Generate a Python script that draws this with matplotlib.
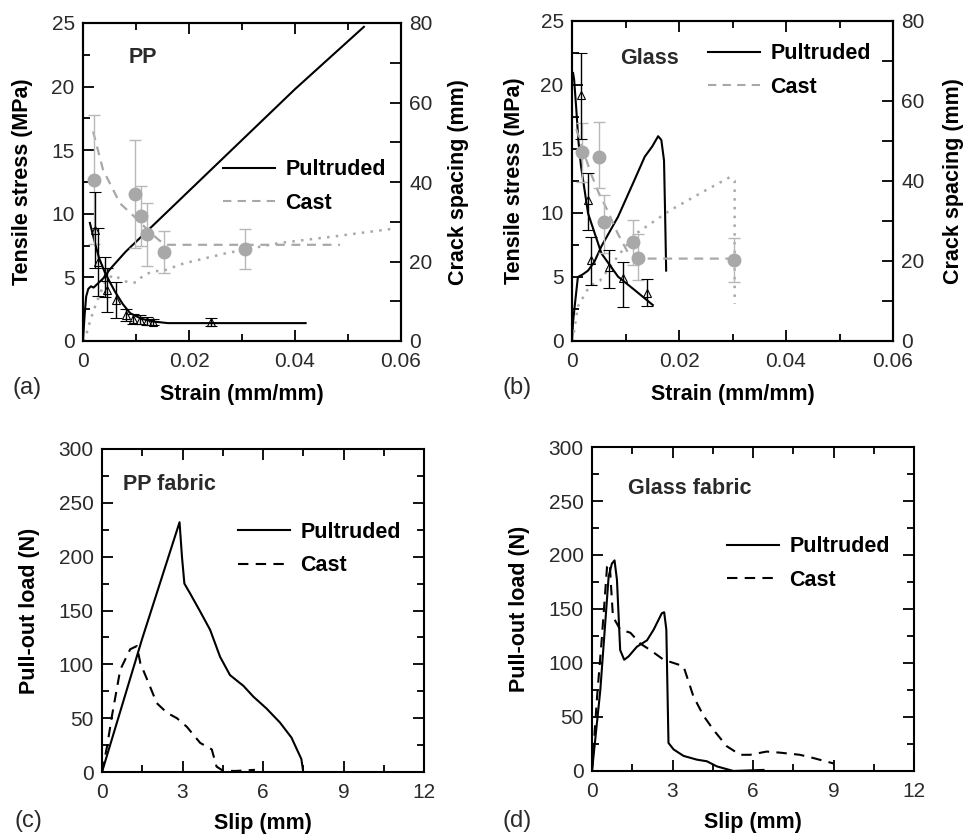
import matplotlib
matplotlib.use("Agg")
import matplotlib.pyplot as plt
from matplotlib.lines import Line2D
from matplotlib.ticker import MultipleLocator

plt.rcParams['font.family'] = ['Liberation Sans', 'DejaVu Sans']

# ---- (a) PP tensile ----
a_pul_x = [0, 0.0003, 0.0006, 0.001, 0.0015, 0.002, 0.003, 0.004, 0.005, 0.008, 0.012, 0.02, 0.03, 0.04, 0.053]
a_pul_y = [0, 2.0, 3.5, 4.1, 4.3, 4.2, 4.6, 5.0, 5.6, 7.0, 8.6, 11.8, 15.8, 19.8, 24.7]
a_cast_x = [0, 0.0005, 0.001, 0.002, 0.003, 0.0042, 0.0057, 0.007, 0.0085, 0.010, 0.0115, 0.0135, 0.015,
            0.019, 0.027, 0.037, 0.047, 0.058]
a_cast_y = [0, 0.3, 1.1, 2.4, 3.5, 4.7, 5.2, 4.9, 4.6, 4.6, 5.2, 5.5, 5.5, 6.1, 6.9, 7.7, 8.2, 8.8]
a_pfit_x = [0.0013, 0.002, 0.003, 0.0042, 0.006, 0.0075, 0.0089, 0.011, 0.0133, 0.016, 0.03, 0.042]
a_pfit_y = [29.7, 26.0, 21.0, 17.0, 12.5, 9.3, 7.0, 5.6, 4.9, 4.5, 4.5, 4.5]
a_ppts_x = [0.0022, 0.0028, 0.0041, 0.0045, 0.0063, 0.0082, 0.0094, 0.0107, 0.012, 0.0132, 0.0242]
a_ppts_y = [27.9, 19.9, 16.1, 12.8, 10.3, 6.5, 5.6, 5.4, 5.0, 4.8, 4.8]
a_ppts_e = [9.5, 8.5, 5.0, 5.5, 4.6, 1.5, 1.3, 1.2, 1.0, 0.8, 1.0]
a_cpts_x = [0.002, 0.0098, 0.0109, 0.012, 0.0152, 0.0306]
a_cpts_y = [40.5, 36.9, 31.4, 26.9, 22.5, 23.1]
a_cpts_lo = [16.0, 13.6, 7.5, 8.0, 5.3, 5.1]
a_cpts_hi = [16.4, 13.7, 7.6, 7.9, 5.2, 5.0]
a_cfit_x = [0.0019, 0.0038, 0.007, 0.0104, 0.0125, 0.0145, 0.016, 0.03, 0.0485]
a_cfit_y = [52.7, 43.0, 34.6, 30.4, 27.5, 25.2, 24.2, 24.2, 24.2]

# ---- (b) Glass tensile ----
b_pul_x = [0, 0.0002, 0.0005, 0.0011, 0.002, 0.003, 0.0042, 0.0055, 0.0086, 0.0117, 0.0136, 0.015,
           0.0161, 0.0167, 0.0172, 0.0174, 0.0176]
b_pul_y = [0, 1.5, 2.7, 5.0, 5.2, 5.5, 6.2, 7.4, 9.7, 12.6, 14.4, 15.2, 16.0, 15.7, 14.1, 10.0, 5.5]
b_cast_x = [0, 0.0004, 0.0011, 0.0033, 0.0052, 0.0089, 0.012, 0.0183, 0.0251, 0.0295, 0.0304, 0.0304]
b_cast_y = [0, 0.8, 2.7, 4.3, 4.7, 6.8, 8.4, 10.2, 11.8, 12.8, 12.5, 2.9]
b_pfit_x = [0.0002, 0.0004, 0.0008, 0.0012, 0.0017, 0.003, 0.0055, 0.0086, 0.0117, 0.0151]
b_pfit_y = [67.0, 65.3, 58.0, 50.0, 43.6, 31.9, 21.9, 16.1, 12.75, 9.0]
b_ppts_x = [0.0017, 0.0029, 0.0036, 0.0069, 0.0095, 0.0141]
b_ppts_y = [61.5, 35.2, 20.2, 18.6, 15.7, 12.1]
b_ppts_lo = [11.0, 7.5, 6.2, 5.4, 7.1, 3.4]
b_ppts_hi = [10.5, 6.7, 5.8, 4.1, 4.1, 3.3]
b_cpts_x = [0.0019, 0.005, 0.006, 0.0114, 0.0123, 0.0302]
b_cpts_y = [47.3, 46.1, 29.8, 24.8, 20.7, 20.25]
b_cpts_lo = [7.5, 7.9, 7.9, 5.8, 5.45, 5.45]
b_cpts_hi = [7.1, 8.7, 6.7, 5.5, 6.0, 5.55]
b_cfit_x = [0.0008, 0.002, 0.0035, 0.005, 0.0065, 0.0085, 0.0105, 0.0125, 0.0304]
b_cfit_y = [53.0, 48.0, 42.0, 37.0, 33.0, 27.0, 22.0, 20.6, 20.6]

# ---- (c) PP fabric pull-out ----
c_pul_x = [0, 1.5, 2.89, 2.98, 3.07, 3.28, 3.66, 4.03, 4.4, 4.77, 5.27, 5.64, 6.13, 6.63, 7.06, 7.43, 7.5]
c_pul_y = [0, 124, 232, 200, 175, 166, 149, 132, 107, 90, 80, 70, 59, 46, 32, 12, 0]
c_cast_x = [0, 0.19, 0.37, 0.68, 1.05, 1.3, 1.43, 1.73, 2.04, 2.42, 2.79, 3.16, 3.66, 4.09, 4.27, 4.52, 5.0, 5.7]
c_cast_y = [0, 24, 52, 95, 114, 117, 101, 83, 64, 55, 50, 42, 27, 21, 5, 1, 1, 2]

# ---- (d) Glass fabric pull-out ----
d_pul_x = [0, 0.31, 0.62, 0.74, 0.84, 0.93, 1.05, 1.2, 1.36, 1.67, 2.05, 2.3, 2.6, 2.69, 2.77, 2.85,
           3.04, 3.41, 3.91, 4.28, 4.65, 5.27, 6.39]
d_pul_y = [0, 75, 180, 192, 195, 177, 112, 103, 106, 115, 121, 131, 146, 147, 131, 26,
           20, 14, 10.5, 9, 4.3, 0, 1]
d_cast_x = [0, 0.19, 0.37, 0.56, 0.66, 0.71, 0.78, 1.05, 1.43, 1.8, 2.17, 2.67, 2.92, 3.41, 3.78,
            4.16, 4.53, 5.02, 5.52, 5.89, 6.51, 7.0, 7.75, 8.25, 9.0]
d_cast_y = [0, 69, 124, 189, 192, 171, 143, 131, 128, 118, 112, 103, 101, 97, 69,
            51, 38, 23, 15, 15, 18, 17, 15, 12, 7]

W, H = 966, 835
GRAY = '#a8a8a8'
EGRAY = '#b8b8b8'
TXT = '#2a2a2a'
FS = 15      # tick labels
LFS = 15.5   # bold labels


def rect(l, t, r, b):
    return [l / W, (H - b) / H, (r - l) / W, (b - t) / H]


def style(ax, right=True):
    for s in ax.spines.values():
        s.set_linewidth(1.5)
    ax.tick_params(which='both', direction='in', top=True, right=right, width=1.3,
                   labelsize=FS, labelcolor=TXT)
    ax.tick_params(axis='x', pad=8)
    ax.tick_params(axis='y', pad=6)
    ax.tick_params(which='major', length=8)
    ax.tick_params(which='minor', length=5)


def add_legend(ax, x, y, cast_color=GRAY, cast_ls=(0, (4, 3))):
    h = [Line2D([], [], color='k', lw=1.5),
         Line2D([], [], color=cast_color, lw=1.5, ls=cast_ls)]
    ax.legend(h, ['Pultruded', 'Cast'], loc='upper left', bbox_to_anchor=(x, y),
              frameon=False, borderpad=0, borderaxespad=0, handlelength=2.4,
              handletextpad=0.5, labelspacing=0.58, prop={'weight': 'bold', 'size': LFS})


def tensile(rc, name, pul, cast, pfit, ppts, cpts, cfit, leg, pads):
    ax = fig.add_axes(rect(*rc))
    ax.plot(pul[0], pul[1], color='k', lw=1.5)
    ax.plot(cast[0], cast[1], color=GRAY, lw=1.8, ls=(0, (1, 2.5)))
    ax.set_xlim(0, 0.06)
    ax.set_ylim(0, 25)
    ax.set_xticks([0, 0.02, 0.04, 0.06])
    ax.set_xticklabels(['0', '0.02', '0.04', '0.06'])
    ax.xaxis.set_minor_locator(MultipleLocator(0.01))
    ax.yaxis.set_major_locator(MultipleLocator(5))
    ax.yaxis.set_minor_locator(MultipleLocator(2.5))
    style(ax, right=False)
    ax.set_xlabel('Strain (mm/mm)', fontsize=LFS, fontweight='bold', labelpad=9)
    ax.set_ylabel('Tensile stress (MPa)', fontsize=LFS, fontweight='bold', labelpad=pads[0])

    ax2 = ax.twinx()
    ax2.plot(pfit[0], pfit[1], color='k', lw=1.5)
    ax2.plot(cfit[0], cfit[1], color=GRAY, lw=1.6, ls=(0, (4, 3)))
    ax2.errorbar(cpts[0], cpts[1], yerr=[cpts[2], cpts[3]], fmt='o', color=GRAY, ms=9,
                 ecolor=EGRAY, elinewidth=1, capsize=4)
    ax2.errorbar(ppts[0], ppts[1], yerr=[ppts[2], ppts[3]], fmt='^', mfc='none', mec='k',
                 ms=6, mew=0.8, ecolor='k', elinewidth=1, capsize=4)
    ax2.set_ylim(0, 80)
    ax2.yaxis.set_major_locator(MultipleLocator(20))
    ax2.yaxis.set_minor_locator(MultipleLocator(10))
    style(ax2)
    ax2.tick_params(which='minor', length=8)
    ax2.set_ylabel('Crack spacing (mm)', fontsize=LFS, fontweight='bold', labelpad=pads[1])
    ax.text(name[1], name[2], name[0], transform=ax.transAxes, fontsize=LFS,
            fontweight='bold', va='center', ha='left', color=TXT)
    add_legend(ax2, leg[0], leg[1])
    return ax


def pullout(rc, name, pul, cast, leg):
    ax = fig.add_axes(rect(*rc))
    ax.plot(pul[0], pul[1], color='k', lw=1.5)
    ax.plot(cast[0], cast[1], color='k', lw=1.5, ls=(0, (5, 3.5)))
    ax.set_xlim(0, 12)
    ax.set_ylim(0, 300)
    ax.xaxis.set_major_locator(MultipleLocator(3))
    ax.xaxis.set_minor_locator(MultipleLocator(1.5))
    ax.yaxis.set_major_locator(MultipleLocator(50))
    ax.yaxis.set_minor_locator(MultipleLocator(25))
    style(ax)
    ax.set_xlabel('Slip (mm)', fontsize=LFS, fontweight='bold', labelpad=8)
    ax.set_ylabel('Pull-out load (N)', fontsize=LFS, fontweight='bold', labelpad=13)
    ax.text(name[1], name[2], name[0], transform=ax.transAxes, fontsize=LFS,
            fontweight='bold', va='center', ha='left', color=TXT)
    add_legend(ax, leg[0], leg[1], cast_color='k', cast_ls=(0, (5, 3.5)))
    return ax


fig = plt.figure(figsize=(W / 100, H / 100), dpi=100)

tensile((83, 23, 401, 341), ('PP', 0.145, 0.89),
        (a_pul_x, a_pul_y), (a_cast_x, a_cast_y), (a_pfit_x, a_pfit_y),
        (a_ppts_x, a_ppts_y, a_ppts_e, a_ppts_e), (a_cpts_x, a_cpts_y, a_cpts_lo, a_cpts_hi),
        (a_cfit_x, a_cfit_y), (0.44, 0.572), (13, 11))
tensile((572, 21, 893, 341), ('Glass', 0.15, 0.884),
        (b_pul_x, b_pul_y), (b_cast_x, b_cast_y), (b_pfit_x, b_pfit_y),
        (b_ppts_x, b_ppts_y, b_ppts_lo, b_ppts_hi), (b_cpts_x, b_cpts_y, b_cpts_lo, b_cpts_hi),
        (b_cfit_x, b_cfit_y), (0.424, 0.93), (11, 13))
pullout((102, 449, 424, 772), ('PP fabric', 0.065, 0.889),
        (c_pul_x, c_pul_y), (c_cast_x, c_cast_y), (0.422, 0.774))
pullout((592, 447, 914, 771), ('Glass fabric', 0.112, 0.873),
        (d_pul_x, d_pul_y), (d_cast_x, d_cast_y), (0.419, 0.725))

for lab, px, py in [('(a)', 13, 388), ('(b)', 503, 388), ('(c)', 15, 821), ('(d)', 503, 821)]:
    fig.text(px / W, 1 - py / H, lab, fontsize=17, va='center', ha='left', color=TXT)

fig.savefig('out.png', dpi=100)
